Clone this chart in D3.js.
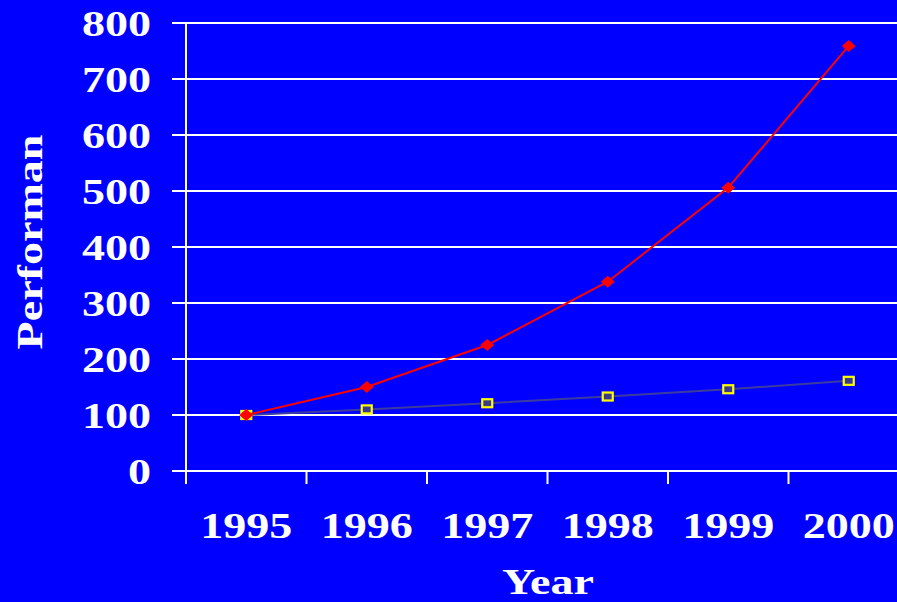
<!DOCTYPE html>
<html>
<head>
<meta charset="utf-8">
<script src="https://cdn.jsdelivr.net/npm/d3@7"></script>
<style>
  html, body { margin: 0; padding: 0; background: #0000FF; overflow: hidden; }
  text { font-family: "Liberation Serif", "Times New Roman", serif; font-weight: bold; fill: #FFFFFF; }
</style>
</head>
<body>
<svg id="chart" width="897" height="602"></svg>
<script>
// Performance growth, 1995–2000
const years = ["1995", "1996", "1997", "1998", "1999", "2000"];
const fastSeries = [100, 150, 225, 338, 506, 759];
const slowSeries = [100, 110, 121, 133, 146, 161];
const yTicks = [0, 100, 200, 300, 400, 500, 600, 700, 800];

const svg = d3.select("#chart");
const plotLeft = 186, plotRight = 909, plotTop = 23, plotBottom = 471;
const stretch = 1.28;

const x = d3.scaleBand().domain(years).range([plotLeft, plotRight]).padding(0);
const y = d3.scaleLinear().domain([0, 800]).range([plotBottom, plotTop]);
const cx = d => x(d) + x.bandwidth() / 2;

// horizontal gridlines with left tick stubs
svg.append("g").selectAll("line").data(yTicks).join("line")
  .attr("x1", plotLeft - 14).attr("x2", 897)
  .attr("y1", d => y(d)).attr("y2", d => y(d))
  .attr("stroke", "#FFFFFF").attr("stroke-width", 2);

// vertical axis line
svg.append("line")
  .attr("x1", plotLeft).attr("x2", plotLeft).attr("y1", plotTop).attr("y2", plotBottom + 13)
  .attr("stroke", "#FFFFFF").attr("stroke-width", 2);

// category tick marks below the x axis
svg.append("g").selectAll("line").data(years).join("line")
  .attr("x1", d => x(d) + x.bandwidth())
  .attr("x2", d => x(d) + x.bandwidth())
  .attr("y1", plotBottom).attr("y2", plotBottom + 13)
  .attr("stroke", "#FFFFFF").attr("stroke-width", 2);

// y tick labels
svg.append("g").selectAll("text").data(yTicks).join("text")
  .attr("transform", d => `translate(151,${y(d) + 13}) scale(${stretch},1)`)
  .attr("text-anchor", "end").attr("font-size", 36)
  .text(d => d);

// x tick labels
svg.append("g").selectAll("text").data(years).join("text")
  .attr("transform", d => `translate(${cx(d)},538) scale(${stretch},1)`)
  .attr("text-anchor", "middle").attr("font-size", 36)
  .text(d => d);

// axis titles
svg.append("text")
  .attr("transform", `translate(548,594) scale(${stretch},1)`)
  .attr("text-anchor", "middle").attr("font-size", 36)
  .text("Year");
svg.append("text")
  .attr("transform", `translate(42,242) rotate(-90) scale(${stretch},1)`)
  .attr("text-anchor", "middle").attr("font-size", 36)
  .text("Performan");

// slow series: slate line with yellow squares
const lineSlow = d3.line().x((d, i) => cx(years[i])).y(d => y(d));
svg.append("path").datum(slowSeries).attr("d", lineSlow)
  .attr("fill", "none").attr("stroke", "#3C3CA0").attr("stroke-width", 2);
svg.append("g").selectAll("rect").data(slowSeries).join("rect")
  .attr("x", (d, i) => cx(years[i]) - 5).attr("y", d => y(d) - 4)
  .attr("width", 10).attr("height", 8)
  .attr("fill", "#3A3A8C").attr("stroke", "#FFFF00").attr("stroke-width", 2.2);

// fast series: red line with diamonds
const lineFast = d3.line().x((d, i) => cx(years[i])).y(d => y(d));
svg.append("path").datum(fastSeries).attr("d", lineFast)
  .attr("fill", "none").attr("stroke", "#FF0000").attr("stroke-width", 2);
svg.append("g").selectAll("path.dia").data(fastSeries).join("path")
  .attr("class", "dia")
  .attr("transform", (d, i) => `translate(${cx(years[i])},${y(d)})`)
  .attr("d", "M-7,0L0,-6L7,0L0,6Z")
  .attr("fill", "#FF0000");
</script>
</body>
</html>
